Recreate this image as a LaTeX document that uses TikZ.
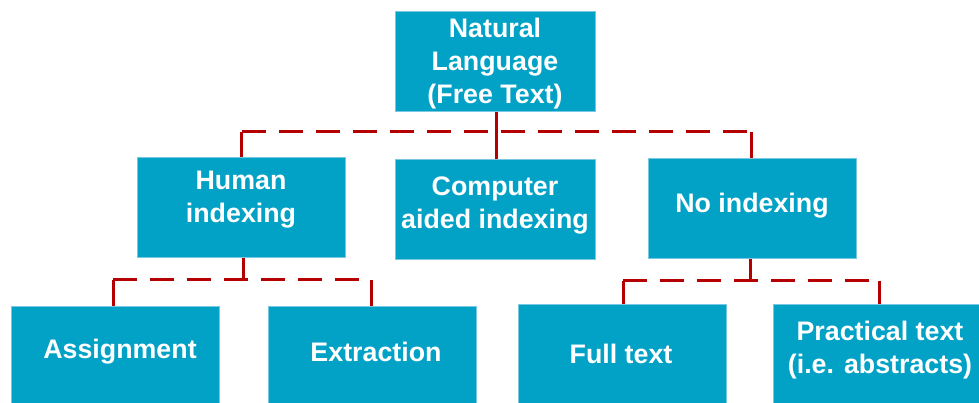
\documentclass[tikz,border=0pt]{standalone}
\usepackage{fontspec}
\setmainfont{Liberation Sans}
\definecolor{boxteal}{RGB}{2,161,198}
\definecolor{boxedge}{RGB}{120,200,225}
\definecolor{linered}{RGB}{180,0,0}
\begin{document}
\begin{tikzpicture}[x=1pt,y=-1pt,
  box/.style={fill=boxteal,draw=boxedge,line width=0.6pt,anchor=north west,inner sep=0pt},
  txt/.style={text=white,font=\fontsize{26.8}{33}\selectfont\bfseries,align=center,inner sep=0pt},
  solidline/.style={draw=linered,line width=3pt},
  busline/.style={draw=linered,line width=3pt,dash pattern=on 24pt off 13pt}]
\useasboundingbox (0,0) rectangle (979,403);
% boxes
\node[box,minimum width=200,minimum height=100] (root) at (395,11) {};
\node[box,minimum width=208,minimum height=100] (human) at (137,157) {};
\node[box,minimum width=200,minimum height=100] (computer) at (395,159) {};
\node[box,minimum width=208,minimum height=100] (noidx) at (648,158) {};
\node[box,minimum width=208,minimum height=100] (assign) at (11,306) {};
\node[box,minimum width=208,minimum height=100] (extract) at (268,306) {};
\node[box,minimum width=208,minimum height=100] (full) at (518,304) {};
\node[box,minimum width=208,minimum height=100] (practical) at (773,304) {};
% texts
\node[txt] (rootT) at (495,63.5) {Natural\\Language\\(Free Text)};
\node[txt] (humanT) at (241,199.5) {Human\\indexing};
\node[txt] (computerT) at (495,205.5) {Computer\\aided indexing};
\node[txt] (noidxT) at (752,205.5) {No indexing};
\node[txt] (assignT) at (120,351.5) {Assignment};
\node[txt] (extractT) at (376,351.5) {Extraction};
\node[txt] (fullT) at (621,354) {Full text};
\node[txt] (practicalT) at (880,350.5) {Practical text\\(i.e. abstracts)};
% bus coordinates
\coordinate (b1l) at (241.5,132);
\coordinate (b1r) at (751.5,132);
\coordinate (b2l) at (113,279.5);
\coordinate (b2r) at (371.5,279.5);
\coordinate (b3l) at (623,280.5);
\coordinate (b3r) at (879,280.5);
% top level
\draw[busline] (b1l) -- (b1r);
\draw[solidline] (root.south -| 496,0) -- (computer.north -| 496,0);
\draw[solidline] (b1l) -- (human.north -| b1l);
\draw[solidline] (b1r) -- (noidx.north -| b1r);
% human indexing
\draw[busline] (b2l) -- (b2r);
\draw[solidline] (human.south -| 243,0) -- (243,279.5);
\draw[solidline] (b2l) -- (assign.north -| b2l);
\draw[solidline] (b2r) -- (extract.north -| b2r);
% no indexing
\draw[busline] (b3l) -- (b3r);
\draw[solidline] (noidx.south -| 750,0) -- (750,280.5);
\draw[solidline] (b3l) -- (full.north -| b3l);
\draw[solidline] (b3r) -- (practical.north -| b3r);
\end{tikzpicture}
\end{document}
